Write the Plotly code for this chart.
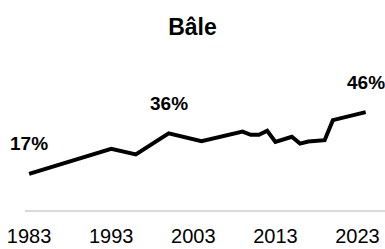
import plotly.graph_objects as go

years = [1983, 1993, 1996, 2000, 2004, 2009, 2010, 2011, 2012, 2013, 2015, 2016, 2017, 2019, 2020, 2024]
values = [17, 28.7, 26.1, 36, 32.3, 36.8, 35.3, 35.3, 37.2, 32.0, 34.4, 31.2, 32.2, 32.8, 42.2, 46]
label_years = [1983, 2000, 2024]
label_values = [17, 36, 46]
label_texts = ["17%", "36%", "46%"]
tick_vals = [1983, 1993, 2003, 2013, 2023]
tick_text = ["1983", "1993", "2003", "2013", "2023"]
title_text = "Bâle"

FONT = "Liberation Sans, Arial, sans-serif"

fig = go.Figure()
fig.add_trace(go.Scatter(x=years, y=values, mode="lines",
                         line=dict(color="black", width=4), hoverinfo="skip",
                         cliponaxis=False))

for x, y, t in zip(label_years, label_values, label_texts):
    fig.add_annotation(x=x, y=y, text="<b>%s</b>" % t, showarrow=False,
                       yshift=30, font=dict(family=FONT, size=19, color="black"))

fig.update_layout(
    width=385, height=249,
    margin=dict(l=25, r=0, t=61, b=39, autoexpand=False),
    paper_bgcolor="white", plot_bgcolor="white",
    showlegend=False,
    title=dict(text="<b>%s</b>" % title_text, x=0.5, xanchor="center",
               y=1 - 27 / 249, yanchor="middle", yref="container",
               font=dict(family=FONT, size=23, color="black")),
    xaxis=dict(range=[1982.5, 2026.35], tickvals=tick_vals, ticktext=tick_text,
               showgrid=False, zeroline=False, showline=True,
               linecolor="#d9d9d9", linewidth=2, ticks="",
               automargin=False, ticklabelstandoff=7,
               tickfont=dict(family=FONT, size=20, color="black")),
    yaxis=dict(range=[0, 70], visible=False, showgrid=False, zeroline=False,
               automargin=False),
)

fig.write_html("out.html", config={"displayModeBar": False},
               post_script="document.body.style.margin='0';document.body.style.overflow='hidden';")
